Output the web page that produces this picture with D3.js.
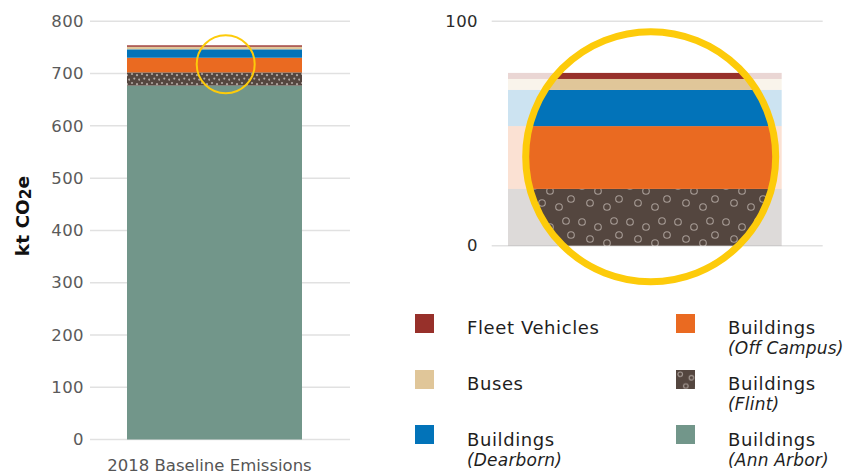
<!DOCTYPE html>
<html>
<head>
<meta charset="utf-8">
<script src="https://cdn.jsdelivr.net/npm/d3@7"></script>
<style>
  html, body { margin: 0; padding: 0; background: #fff; }
  svg { display: block; font-family: "DejaVu Sans", sans-serif; }
</style>
</head>
<body>
<svg id="chart" width="849" height="474"></svg>
<script>
// Emission sources, bottom of the stack first
const sources = ["annArbor", "flint", "offCampus", "dearborn", "buses", "fleet"];
const sourceValues = [677, 25.3, 28, 16.1, 4.9, 2.7]; // kt CO2e
const sourceColors = ["#72968a", "#54463f", "#ea6a21", "#0273b9", "#e0c699", "#97302a"];
const category = ["2018 Baseline Emissions"];

// Axis ticks
const mainTicks = [0, 100, 200, 300, 400, 500, 600, 700, 800];
const detailTicks = [0, 100];

// Legend entries (column-major order) and their two-line labels
const legendKeys = ["fleet", "buses", "dearborn", "offCampus", "flint", "annArbor"];
const legendLine1 = ["Fleet Vehicles", "Buses", "Buildings", "Buildings", "Buildings", "Buildings"];
const legendLine2 = ["", "", "(Dearborn)", "(Off Campus)", "(Flint)", "(Ann Arbor)"];

const svg = d3.select("#chart");
const defs = svg.append("defs");
const colorOf = d3.scaleOrdinal().domain(sources).range(sourceColors);

// Dotted texture for the Flint segment: a fine version for the main bar,
// and a ring version for the magnified view and the legend.
const fine = defs.append("pattern").attr("id", "flintFine")
  .attr("patternUnits", "userSpaceOnUse").attr("width", 10).attr("height", 9);
fine.append("rect").attr("width", 10).attr("height", 9).attr("fill", colorOf("flint"));
[[2, 2], [7, 3.2], [4.3, 6.6], [9.2, 7.6]].forEach(([x, y]) =>
  fine.append("circle").attr("cx", x).attr("cy", y).attr("r", 1.1).attr("fill", "#b0a6a0"));

function ringPattern(id, scale) {
  const p = defs.append("pattern").attr("id", id)
    .attr("patternUnits", "userSpaceOnUse").attr("width", 48).attr("height", 36)
    .attr("patternTransform", `scale(${scale})`);
  p.append("rect").attr("width", 48).attr("height", 36).attr("fill", colorOf("flint"));
  [[6, 6], [22, 11], [38, 5], [14, 23], [31, 27], [43, 19]].forEach(([x, y]) =>
    p.append("circle").attr("cx", x).attr("cy", y).attr("r", 3.3)
      .attr("fill", "none").attr("stroke", "#a69b95").attr("stroke-width", 1.1 / scale));
}
ringPattern("flintRings", 1);
ringPattern("flintRingsSmall", 0.7);

const stack = d3.stack().keys(sources);
const row = Object.fromEntries(sources.map((k, i) => [k, sourceValues[i]]));
const layers = stack([row]);

// ---------- Main chart ----------
const yMain = d3.scaleLinear().domain([0, 800]).range([439.5, 21.3]);
const xMain = d3.scaleBand().domain(category).range([127, 302]).padding(0);

svg.append("g").selectAll("line").data(mainTicks).join("line")
  .attr("x1", 90).attr("x2", 350)
  .attr("y1", d => yMain(d)).attr("y2", d => yMain(d))
  .attr("stroke", "#e1e1e1").attr("stroke-width", 1.5);

const axisMain = svg.append("g").attr("transform", "translate(84,0)")
  .call(d3.axisLeft(yMain).tickValues(mainTicks).tickSize(0).tickPadding(0));
axisMain.select(".domain").remove();
axisMain.selectAll("text")
  .attr("font-family", "DejaVu Sans, sans-serif").attr("font-size", 16.5)
  .attr("letter-spacing", 0.4).attr("fill", "#5a5a5a");

svg.append("g").selectAll("rect").data(layers).join("rect")
  .attr("x", xMain(category[0]))
  .attr("width", xMain.bandwidth())
  .attr("y", d => yMain(d[0][1]))
  .attr("height", d => yMain(d[0][0]) - yMain(d[0][1]))
  .attr("fill", d => d.key === "flint" ? "url(#flintFine)" : colorOf(d.key));

svg.append("text")
  .attr("x", xMain(category[0]) + xMain.bandwidth() / 2 - 5).attr("y", 471)
  .attr("text-anchor", "middle").attr("font-size", 16.5).attr("fill", "#555")
  .text(category[0]);

const yTitle = svg.append("text")
  .attr("transform", "translate(29,216) rotate(-90)")
  .attr("text-anchor", "middle").attr("font-weight", "bold")
  .attr("font-size", 18.5).attr("fill", "#111");
yTitle.append("tspan").text("kt CO");
yTitle.append("tspan").attr("font-size", 15.5).attr("dy", 1.5).text("2");
yTitle.append("tspan").attr("dy", -1.5).text("e");

// Highlight marking the magnified region
svg.append("circle").attr("cx", 225.7).attr("cy", 64.3).attr("r", 29)
  .attr("fill", "none").attr("stroke", "#fdcb0a").attr("stroke-width", 2);

// ---------- Magnified view: everything above the Ann Arbor segment ----------
const upper = sources.filter(k => k !== "annArbor");
const upperRow = Object.fromEntries(upper.map(k => [k, row[k]]));
const upperLayers = d3.stack().keys(upper)([upperRow]);

const yZoom = d3.scaleLinear().domain([0, 100]).range([245.7, 21.3]);
const xZoom = d3.scaleBand().domain(category).range([508, 781.7]).padding(0);

svg.append("g").selectAll("line").data(detailTicks).join("line")
  .attr("x1", 491.7).attr("x2", 822.7)
  .attr("y1", d => yZoom(d)).attr("y2", d => yZoom(d))
  .attr("stroke", "#e1e1e1").attr("stroke-width", 1.5);

const axisZoom = svg.append("g").attr("transform", "translate(478,0)")
  .call(d3.axisLeft(yZoom).tickValues(detailTicks).tickSize(0).tickPadding(0));
axisZoom.select(".domain").remove();
axisZoom.selectAll("text")
  .attr("font-family", "DejaVu Sans, sans-serif").attr("font-size", 16.5)
  .attr("letter-spacing", 0.4).attr("fill", "#2a2a2a");

const lens = { cx: 650.7, cy: 156.7, r: 125 };
defs.append("clipPath").attr("id", "lensClip")
  .append("circle").attr("cx", lens.cx).attr("cy", lens.cy).attr("r", lens.r);

// faded bar outside the lens
svg.append("g").selectAll("rect").data(upperLayers).join("rect")
  .attr("x", xZoom(category[0])).attr("width", xZoom.bandwidth())
  .attr("y", d => yZoom(d[0][1]))
  .attr("height", d => yZoom(d[0][0]) - yZoom(d[0][1]))
  .attr("fill", d => colorOf(d.key)).attr("fill-opacity", 0.2);

// full-colour bar inside the lens
svg.append("g").attr("clip-path", "url(#lensClip)")
  .append("rect").attr("x", xZoom(category[0])).attr("width", xZoom.bandwidth())
  .attr("y", yZoom(100)).attr("height", yZoom(0) - yZoom(100)).attr("fill", "#fff");
svg.append("g").attr("clip-path", "url(#lensClip)")
  .selectAll("rect").data(upperLayers).join("rect")
  .attr("x", xZoom(category[0])).attr("width", xZoom.bandwidth())
  .attr("y", d => yZoom(d[0][1]))
  .attr("height", d => yZoom(d[0][0]) - yZoom(d[0][1]))
  .attr("fill", d => d.key === "flint" ? "url(#flintRings)" : colorOf(d.key));

svg.append("circle").attr("cx", lens.cx).attr("cy", lens.cy).attr("r", lens.r)
  .attr("fill", "none").attr("stroke", "#fdcb0a").attr("stroke-width", 7);

// ---------- Legend ----------
const colX = [415, 676];
const textX = [467, 728];
const swatchY = [314, 370, 425];
const baseY = [334, 389.5, 445.5];

const legend = svg.append("g").selectAll("g").data(legendKeys).join("g")
  .attr("transform", (d, i) => `translate(${colX[Math.floor(i / 3)]},${swatchY[i % 3]})`);
legend.append("rect").attr("width", 19).attr("height", 19)
  .attr("fill", d => d === "flint" ? "url(#flintRingsSmall)" : colorOf(d));

const legendText = svg.append("g").selectAll("text").data(legendKeys).join("text")
  .attr("x", (d, i) => textX[Math.floor(i / 3)])
  .attr("y", (d, i) => baseY[i % 3])
  .attr("font-size", 18).attr("fill", "#1e1e1e");
legendText.append("tspan").attr("letter-spacing", 0.6).text((d, i) => legendLine1[i]);
legendText.append("tspan")
  .attr("x", (d, i) => textX[Math.floor(i / 3)]).attr("dy", 20)
  .attr("font-style", "italic").attr("font-size", 17).attr("letter-spacing", 0.2)
  .text((d, i) => legendLine2[i]);
</script>
</body>
</html>
